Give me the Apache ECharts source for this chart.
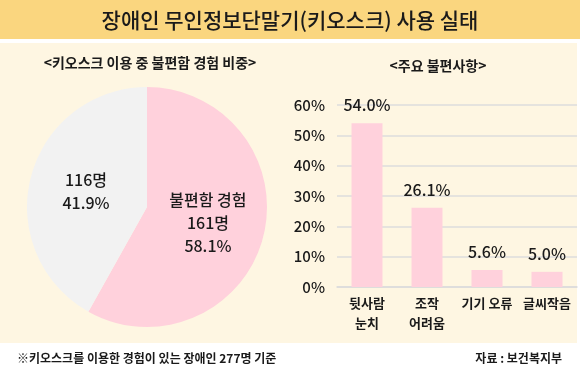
<!DOCTYPE html>
<html><head><meta charset="utf-8">
<script src="https://cdn.jsdelivr.net/npm/echarts@6/dist/echarts.min.js"></script>
<style>html,body{margin:0;padding:0;background:#fff}#c{width:580px;height:371px}</style>
</head><body><div id="c"></div>
<script>
const pieNames = ['불편함 경험', ''];
const pieCounts = [161, 116];
const pieShares = [58.1, 41.9];
const barCategories = ['뒷사람\n눈치', '조작\n어려움', '기기 오류', '글씨작음'];
const barValues = [54.0, 26.1, 5.6, 5.0];
const yTicks = [0, 10, 20, 30, 40, 50, 60];

const FONT = '"Noto Sans CJK KR", "Noto Sans", sans-serif';
const chart = echarts.init(document.getElementById('c'));
chart.setOption({
  animation: false,
  textStyle: {fontFamily: FONT},
  graphic: [
    {type: 'rect', shape: {x: 0, y: 0, width: 580, height: 39}, style: {fill: '#FAD67F'}, z: -10},
    {type: 'rect', shape: {x: 0, y: 43, width: 577, height: 300}, style: {fill: '#FEF6E2'}, z: -10}
  ],
  title: [
    {text: '장애인 무인정보단말기(키오스크) 사용 실태', left: 'center', top: 5,
     textStyle: {fontSize: 21, fontWeight: 500, color: '#1a1a1a', fontFamily: FONT}},
    {text: '<키오스크 이용 중 불편함 경험 비중>', left: 145, textAlign: 'center', top: 51,
     textStyle: {fontSize: 14, fontWeight: 'bold', color: '#1a1a1a', fontFamily: FONT}},
    {text: '<주요 불편사항>', left: 433, textAlign: 'center', top: 54,
     textStyle: {fontSize: 14, fontWeight: 'bold', color: '#1a1a1a', fontFamily: FONT}},
    {text: '※키오스크를 이용한 경험이 있는 장애인 277명 기준', left: 12, top: 347,
     textStyle: {fontSize: 12, fontWeight: 'bold', color: '#1a1a1a', fontFamily: FONT}},
    {text: '자료 : 보건복지부', right: 13, top: 347,
     textStyle: {fontSize: 12, fontWeight: 'bold', color: '#1a1a1a', fontFamily: FONT}}
  ],
  grid: {left: 337, right: 3, top: 105, bottom: 84},
  xAxis: {
    type: 'category', data: barCategories,
    axisLine: {lineStyle: {color: '#dcdcdc', width: 1.5}},
    axisTick: {show: false},
    axisLabel: {fontSize: 13, fontWeight: 'bold', color: '#1a1a1a', lineHeight: 20, margin: 6, interval: 0, fontFamily: FONT}
  },
  yAxis: {
    type: 'value', min: yTicks[0], max: yTicks[yTicks.length - 1], interval: 10,
    axisLabel: {formatter: '{value}%', fontSize: 15, fontWeight: 500, color: '#1a1a1a', margin: 12, fontFamily: FONT},
    splitLine: {lineStyle: {color: '#dcdcdc', width: 1.5}},
    axisLine: {show: false}, axisTick: {show: false}
  },
  series: [
    {
      type: 'bar', data: barValues, barWidth: 31,
      itemStyle: {color: '#FFD1DC'},
      label: {show: true, position: 'top', distance: 10, formatter: p => p.value.toFixed(1) + '%',
              fontSize: 16, fontWeight: 500, color: '#1a1a1a', fontFamily: FONT}
    },
    {
      type: 'pie', center: [147, 207], radius: 120, startAngle: 90, clockwise: true,
      data: pieCounts.map((v, i) => ({value: v, name: pieNames[i]})),
      itemStyle: {borderWidth: 0},
      color: ['#FFD1DC', '#F2F2F2'],
      label: {
        show: true, position: 'inside', fontSize: 16, fontWeight: 500, color: '#1a1a1a', lineHeight: 23,
        fontFamily: FONT,
        formatter: p => (p.name ? p.name + '\n' : '') + pieCounts[p.dataIndex] + '명\n' + pieShares[p.dataIndex].toFixed(1) + '%'
      },
      labelLine: {show: false},
      emphasis: {disabled: true}
    }
  ]
});
</script></body></html>
